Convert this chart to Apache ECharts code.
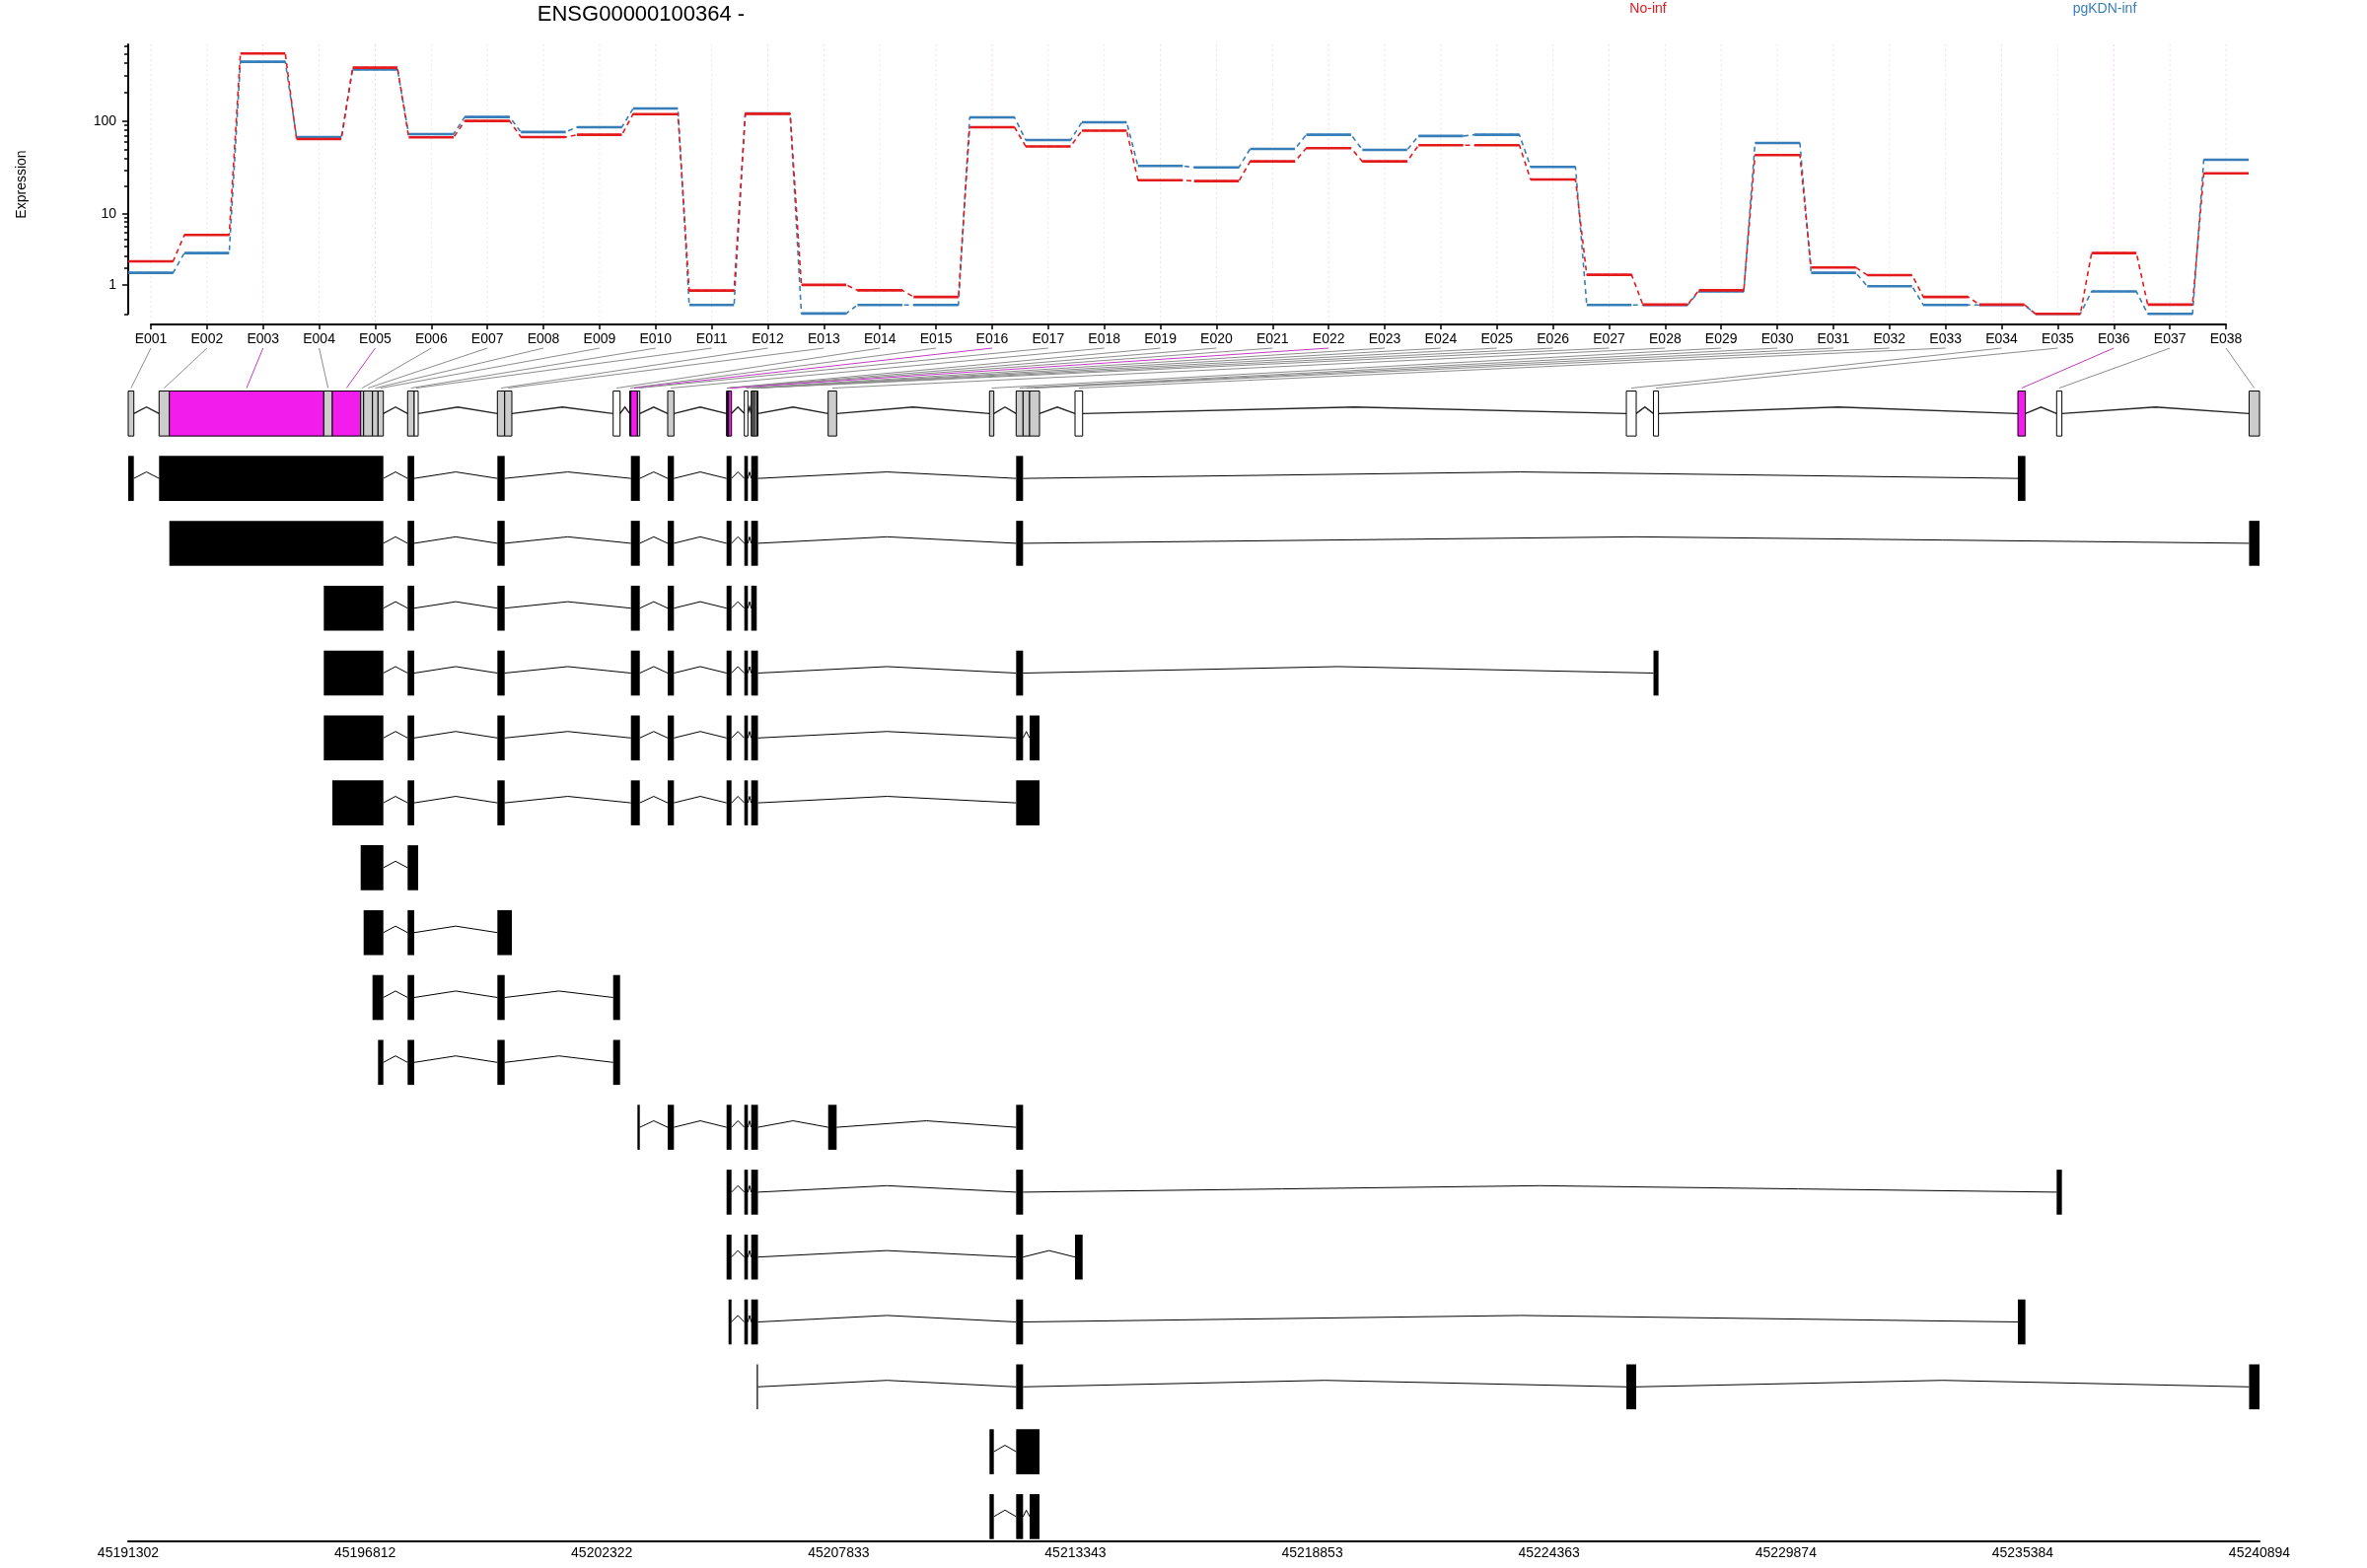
<!DOCTYPE html>
<html><head><meta charset="utf-8">
<script src="https://cdn.jsdelivr.net/npm/echarts@6/dist/echarts.min.js"></script>
<style>html,body{margin:0;padding:0;background:#fff}#c{width:2400px;height:1590px}</style>
</head><body><div id="c"></div>
<script>
// ---------- data ----------
const exonIds = ['E001','E002','E003','E004','E005','E006','E007','E008','E009','E010','E011','E012','E013','E014','E015','E016','E017','E018','E019','E020','E021','E022','E023','E024','E025','E026','E027','E028','E029','E030','E031','E032','E033','E034','E035','E036','E037','E038'];
const noInf    = [2.52,5.6,507,64.6,360,67.2,100,67.7,71.6,118,0.75,119,1.0,0.76,0.5,86,54,79,23.5,23,37.4,51.6,37.4,55.5,55.5,23.9,1.55,0.25,0.76,43.7,2.03,1.53,0.5,0.25,0,3.28,0.25,27.9];
const pgKDNinf = [1.67,3.28,415,67.8,346,72.8,110,76.5,86.1,135,0.24,120,0.01,0.24,0.24,109,63,97,33.4,32.3,50.8,71.6,49.6,69.5,71.6,32.6,0.24,0.24,0.71,58.7,1.67,0.94,0.24,0.24,0,0.71,0,39];
const binStart = [45191302,45192020,45192259,45195853,45196052,45196711,45196780,45196986,45197115,45197803,45197957,45199892,45200062,45202586,45202972,45202999,45203151,45203855,45205225,45205239,45205255,45205271,45205638,45205799,45205829,45205875,45205927,45207589,45211343,45211963,45212124,45212277,45213333,45226162,45226793,45235272,45236174,45240652];
const binEnd   = [45191433,45192259,45195853,45196052,45196711,45196780,45196986,45197115,45197239,45197957,45198049,45200062,45200229,45202747,45202999,45203151,45203206,45204000,45205239,45205255,45205271,45205340,45205721,45205829,45205875,45205927,45205955,45207786,45211444,45212124,45212277,45212507,45213510,45226391,45226910,45235447,45236296,45240894];
// n = tested, w = not tested, s = significant
const binType  = ['n','n','s','n','s','n','n','n','n','n','w','n','n','w','n','s','n','n','n','n','n','s','w','n','n','n','n','n','n','n','n','n','w','w','w','s','w','n'];
// transcripts as ranges of exon bins (1-based)
const transcripts = [
  [[1,1],[2,9],[10,10],[12,12],[16,17],[18,18],[19,22],[23,23],[24,27],[30,30],[36,36]],
  [[3,9],[10,10],[12,12],[16,17],[18,18],[19,22],[23,23],[24,27],[30,30],[38,38]],
  [[4,9],[10,10],[12,12],[16,17],[18,18],[19,22],[23,23],[24,26]],
  [[4,9],[10,10],[12,12],[16,17],[18,18],[19,22],[23,23],[24,27],[30,30],[35,35]],
  [[4,9],[10,10],[12,12],[16,17],[18,18],[19,22],[23,23],[24,27],[30,30],[32,32]],
  [[5,9],[10,10],[12,12],[16,17],[18,18],[19,22],[23,23],[24,27],[30,32]],
  [[6,9],[10,11]],
  [[7,9],[10,10],[12,13]],
  [[8,9],[10,10],[12,12],[14,14]],
  [[9,9],[10,10],[12,12],[14,14]],
  [[17,17],[18,18],[19,22],[23,23],[24,27],[28,28],[30,30]],
  [[19,22],[23,23],[24,27],[30,30],[37,37]],
  [[19,22],[23,23],[24,27],[30,30],[33,33]],
  [[22,22],[23,23],[24,27],[30,30],[36,36]],
  [[27,27],[30,30],[34,34],[38,38]],
  [[29,29],[30,32]],
  [[29,29],[30,30],[32,32]]
];
const yMajorTicks = [1,10,100];
const yMinorTicks = [0,2,3,4,5,6,7,8,9,20,30,40,50,60,70,80,90,200,300,400,500,600];
const geneTicks = [45191302,45196812,45202322,45207833,45213343,45218853,45224363,45229874,45235384,45240894];
const groupNames = ['No-inf','pgKDN-inf'];

// ---------- style ----------
const RED = '#E41A1C', BLUE = '#377EB8', MAG = '#F21CEC', GREY = '#CCCCCC';
const FONT = 'Liberation Sans, Arial, sans-serif';
const HALF = 0.3465;

const L = v => Math.log10(v + 1);
const chart = echarts.init(document.getElementById('c'), null, {renderer:'canvas', width:2400, height:1590});

function pathData(vals){ const d=[]; vals.forEach((v,i)=>{ d.push([i+1-0.4, L(v)]); d.push([i+1+0.4, L(v)]); }); return d; }
function segRender(color){
  return function(params, api){
    const a = api.coord([api.value(0)-0.4, api.value(1)]);
    const b = api.coord([api.value(0)+0.4, api.value(1)]);
    return {type:'line', shape:{x1:a[0],y1:a[1],x2:b[0],y2:b[1]}, style:{stroke:color, lineWidth:2.6}};
  };
}
function boxRender(fillFn, strokeOn){
  return function(params, api){
    const s = api.coord([api.value(0), api.value(2) - HALF]);
    const e = api.coord([api.value(1), api.value(2) + HALF]);
    const w = Math.max(e[0]-s[0], 1.2);
    return {type:'rect', shape:{x:s[0], y:Math.min(s[1],e[1]), width:w, height:Math.abs(e[1]-s[1])},
      style:{fill: fillFn(api.value(3)), stroke: strokeOn ? '#000' : null, lineWidth: strokeOn ? 1 : 0}};
  };
}
function intronRender(width, color){
  return function(params, api){
    const s = api.value(0), e = api.value(1), r = api.value(2);
    const p1 = api.coord([s, r]), p2 = api.coord([(s+e)/2, r - 0.1]), p3 = api.coord([e, r]);
    return {type:'polyline', shape:{points:[p1,p2,p3]}, style:{stroke:color, lineWidth:width, fill:null}};
  };
}

// model boxes and introns
const typeIdx = {n:0, w:1, s:2};
const modelBoxes = binStart.map((s,i)=>[s, binEnd[i], 0, typeIdx[binType[i]]]);
const modelIntrons = [];
for (let i=1;i<binStart.length;i++){ if (binStart[i] > binEnd[i-1]) modelIntrons.push([binEnd[i-1], binStart[i], 0]); }
const txBoxes = [], txIntrons = [];
transcripts.forEach((t, k) => {
  const row = k + 1;
  const ex = t.map(r => [binStart[r[0]-1], binEnd[r[1]-1]]);
  ex.forEach((e, j) => {
    txBoxes.push([e[0], e[1], row, 0]);
    if (j > 0) txIntrons.push([ex[j-1][1], e[0], row]);
  });
});

const option = {
  animation:false,
  backgroundColor:'#fff',
  textStyle:{fontFamily:FONT},
  grid:[
    {left:130, top:45, width:2150, height:273.3},
    {left:153, top:45, width:2104, height:284},
    {left:130, top:396.3, width:2161, height:1166.4}
  ],
  xAxis:[
    {gridIndex:0, type:'value', min:0.6, max:38.4, show:false},
    {gridIndex:1, type:'value', min:1, max:38, interval:1, position:'bottom',
      axisLine:{show:true, onZero:false, lineStyle:{color:'#000', width:2}},
      axisTick:{show:true, length:5, lineStyle:{color:'#000', width:1.5}},
      axisLabel:{show:true, margin:8, fontSize:14, color:'#000', fontFamily:FONT, formatter:v=>exonIds[Math.round(v)-1] || ''},
      splitLine:{show:false}},
    {gridIndex:2, type:'value', min:geneTicks[0], max:geneTicks[geneTicks.length-1], position:'bottom',
      axisLine:{show:true, onZero:false, lineStyle:{color:'#000', width:2}},
      axisTick:{show:false},
      axisLabel:{show:true, margin:5, fontSize:14, color:'#000', fontFamily:FONT, customValues:geneTicks, showMinLabel:true, showMaxLabel:true, formatter:v=>String(Math.round(v))},
      splitLine:{show:false}}
  ],
  yAxis:[
    {gridIndex:0, type:'value', min:0, max:2.8, position:'left',
      axisLine:{show:true, onZero:false, lineStyle:{color:'#000', width:2}},
      axisTick:{show:true, length:6, customValues:yMajorTicks.map(L), lineStyle:{color:'#000', width:1.5}},
      axisLabel:{show:true, margin:12, fontSize:14, color:'#000', fontFamily:FONT, customValues:yMajorTicks.map(L), formatter:v=>String(Math.round(Math.pow(10,v)-1))},
      splitLine:{show:false}},
    {gridIndex:0, type:'value', min:0, max:2.8, position:'left',
      axisLine:{show:false, onZero:false},
      axisTick:{show:true, length:4, customValues:yMinorTicks.map(L), lineStyle:{color:'#000', width:1.5}},
      axisLabel:{show:false}, splitLine:{show:false}},
    {gridIndex:1, type:'value', min:0, max:1, show:false},
    {gridIndex:2, type:'value', min:-0.35, max:17.377, inverse:true, show:false}
  ],
  series:[
    {type:'custom', xAxisIndex:1, yAxisIndex:2, silent:true, z:1, clip:false,
      data: exonIds.map((id,i)=>[i+1, binType[i]==='s'?1:0]),
      renderItem:function(params, api){
        const a = api.coord([api.value(0), 1]), b = api.coord([api.value(0), 0]);
        return {type:'line', shape:{x1:a[0],y1:a[1],x2:b[0],y2:b[1]},
          style:{stroke: api.value(1) ? '#F3CFF2' : '#E6E6E6', lineWidth:1, lineDash:[2,3]}};
      }},
    {name:groupNames[1], type:'line', xAxisIndex:0, yAxisIndex:0, data:pathData(pgKDNinf), showSymbol:false, symbol:'none', silent:true, z:2,
      lineStyle:{color:BLUE, width:1.6, type:[5,4]}},
    {type:'custom', xAxisIndex:0, yAxisIndex:0, silent:true, z:3, clip:false,
      data: pgKDNinf.map((v,i)=>[i+1, L(v)]), renderItem:segRender(BLUE)},
    {name:groupNames[0], type:'line', xAxisIndex:0, yAxisIndex:0, data:pathData(noInf), showSymbol:false, symbol:'none', silent:true, z:4,
      lineStyle:{color:RED, width:1.6, type:[5,4]}},
    {type:'custom', xAxisIndex:0, yAxisIndex:0, silent:true, z:5, clip:false,
      data: noInf.map((v,i)=>[i+1, L(v)]), renderItem:segRender(RED)},
    {type:'custom', xAxisIndex:2, yAxisIndex:3, silent:true, z:2, clip:false,
      data: modelIntrons, renderItem:intronRender(1.4, '#222')},
    {type:'custom', xAxisIndex:2, yAxisIndex:3, silent:true, z:3, clip:false,
      data: modelBoxes, renderItem:boxRender(t => [GREY,'#FFFFFF',MAG][t], true)},
    {type:'custom', xAxisIndex:2, yAxisIndex:3, silent:true, z:2, clip:false,
      data: txIntrons, renderItem:intronRender(1, '#000')},
    {type:'custom', xAxisIndex:2, yAxisIndex:3, silent:true, z:3, clip:false,
      data: txBoxes, renderItem:boxRender(() => '#000', false)}
  ],
  graphic:[
    {type:'text', x:650, y:15, style:{text:'ENSG00000100364 -', font:'22px '+FONT, fill:'#000', textAlign:'center', textVerticalAlign:'middle'}},
    {type:'text', x:1671, y:9, style:{text:groupNames[0], font:'14px '+FONT, fill:RED, textAlign:'center', textVerticalAlign:'middle'}},
    {type:'text', x:2134, y:9, style:{text:groupNames[1], font:'14px '+FONT, fill:BLUE, textAlign:'center', textVerticalAlign:'middle'}},
    {type:'text', x:22, y:187, rotation:Math.PI/2, style:{text:'Expression', font:'14px '+FONT, fill:'#000', textAlign:'center', textVerticalAlign:'middle'}}
  ]
};
chart.setOption(option);

// connector lines from exon labels to bins, positioned through the axes' own scales
const axisY = chart.convertToPixel({yAxisIndex:2}, 0);
const boxTop = chart.convertToPixel({yAxisIndex:3}, -HALF);
const links = exonIds.map((id, i) => {
  const xTop = chart.convertToPixel({xAxisIndex:1}, i+1);
  const xBot = chart.convertToPixel({xAxisIndex:2}, (binStart[i]+binEnd[i])/2);
  return {type:'line', silent:true, z:1, shape:{x1:xTop, y1:axisY+24, x2:xBot, y2:boxTop-3},
    style:{stroke: binType[i]==='s' ? '#C03CC0' : '#8C8C8C', lineWidth:1}};
});
chart.setOption({graphic: option.graphic.concat(links)}, {replaceMerge:['graphic']});
</script>
</body></html>
